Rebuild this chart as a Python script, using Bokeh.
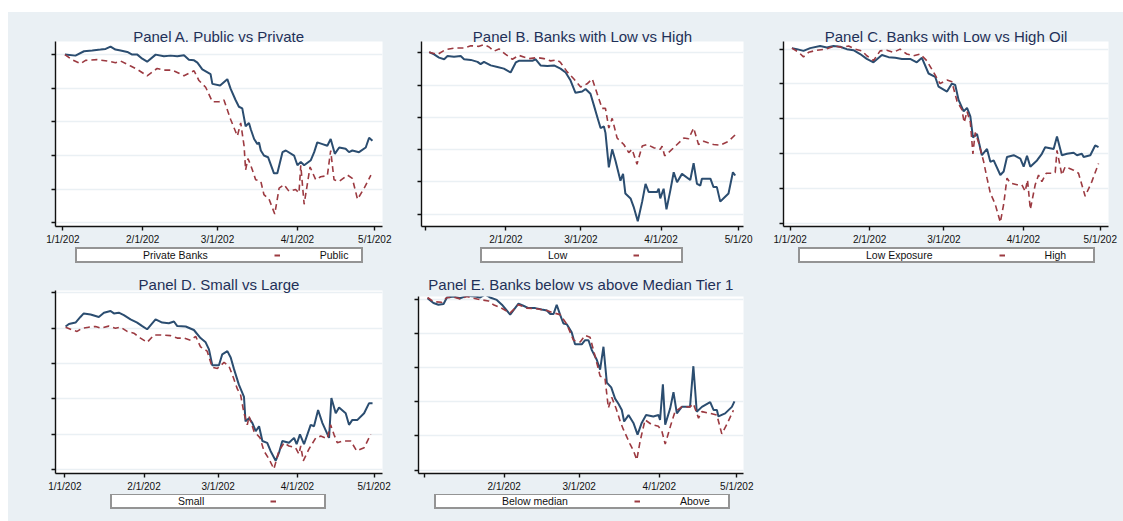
from bokeh.plotting import figure
from bokeh.models import Range1d, FixedTicker, Legend, LegendItem, Spacer
from bokeh.layouts import row, column
from bokeh.core.properties import value
from bokeh.embed import file_html
from bokeh.resources import INLINE

# ---------------- data (x = days since 1 Jan 2020, y = index, start = 1) ----------------
x_tick_days = [0, 31, 60, 91, 121]
x_labels_full = ["1/1/202", "2/1/202", "3/1/202", "4/1/202", "5/1/202"]
x_labels_b = ["", "2/1/202", "3/1/202", "4/1/202", "5/1/20"]
x_labels_e = ["", "2/1/202", "3/1/202", "4/1/202", "5/1/202"]

titles = ["Panel A. Public vs Private", "Panel B. Banks with Low vs High",
          "Panel C. Banks with Low vs High Oil", "Panel D. Small vs Large",
          "Panel E. Banks below vs above Median Tier 1"]
legend_first = ["Private Banks", "Low", "Low Exposure", "Small", "Below median"]
legend_second = ["Public", "", "High", "", "Above"]

# Panel A
a_priv_day = [0.8, 4.9, 8.2, 11.4, 14.6, 16.6, 18.5, 20.4, 22.4, 25.0, 26.9, 28.9, 30.8, 32.7, 36.0,
              39.2, 41.8, 44.4, 47.0, 48.9, 50.9, 52.2, 54.1, 57.3, 58.0, 61.0, 63.8, 65.1, 67.0,
              68.3, 69.6, 70.9, 72.2, 72.9, 74.2, 75.5, 76.1, 76.8, 78.0, 79.6, 81.9, 83.2, 85.2,
              86.5, 89.7, 91.0, 92.3, 93.6, 96.2, 97.5, 98.7, 100.7, 102.6, 103.9, 105.5, 107.2,
              109.7, 111.0, 112.3, 114.9, 117.5, 118.8, 120.1]
a_priv_val = [1.000, 0.997, 1.010, 1.012, 1.015, 1.017, 1.024, 1.015, 1.012, 1.008, 1.000, 1.000,
              0.988, 0.979, 1.000, 0.995, 0.997, 0.995, 0.998, 0.985, 0.983, 0.976, 0.956, 0.942,
              0.913, 0.908, 0.927, 0.898, 0.865, 0.845, 0.840, 0.787, 0.797, 0.778, 0.749, 0.734,
              0.739, 0.715, 0.700, 0.695, 0.647, 0.647, 0.710, 0.715, 0.700, 0.671, 0.681, 0.671,
              0.686, 0.710, 0.739, 0.734, 0.729, 0.749, 0.705, 0.724, 0.720, 0.710, 0.715, 0.710,
              0.724, 0.753, 0.744]
a_pub_day = [0.8, 3.6, 6.9, 8.8, 13.3, 17.2, 20.4, 22.4, 26.3, 28.9, 32.7, 36.6, 39.2, 42.4, 44.4,
             47.0, 50.9, 52.8, 55.4, 58.0, 60.6, 62.5, 65.1, 67.7, 69.0, 70.3, 70.9, 71.8, 72.9,
             74.8, 76.8, 78.0, 80.0, 82.2, 83.9, 85.8, 87.7, 90.3, 91.6, 92.3, 93.6, 95.9, 98.1,
             100.0, 102.6, 103.9, 105.2, 107.2, 110.4, 112.3, 114.3, 116.9, 119.5]
a_pub_val = [1.000, 0.985, 0.973, 0.983, 0.985, 0.981, 0.976, 0.981, 0.966, 0.956, 0.937, 0.959,
             0.954, 0.954, 0.947, 0.937, 0.952, 0.923, 0.903, 0.860, 0.860, 0.865, 0.807, 0.758,
             0.797, 0.729, 0.657, 0.691, 0.671, 0.628, 0.623, 0.584, 0.570, 0.526, 0.603, 0.613,
             0.594, 0.599, 0.589, 0.671, 0.555, 0.666, 0.628, 0.637, 0.640, 0.715, 0.628, 0.623,
             0.642, 0.632, 0.570, 0.603, 0.642]

# Panel B
b_low_day = [1.3, 3.2, 5.1, 7.1, 8.4, 10.9, 13.5, 14.8, 17.4, 20.0, 21.2, 22.5, 25.1, 27.7, 30.2,
             32.8, 34.8, 36.0, 39.3, 41.2, 42.5, 44.4, 47.0, 49.6, 52.1, 54.1, 56.0, 57.9, 60.5,
             61.8, 63.7, 65.0, 66.3, 67.6, 68.9, 69.5, 70.8, 72.1, 73.4, 75.3, 76.3, 77.2, 79.2,
             80.4, 82.0, 83.7, 85.0, 86.2, 89.5, 90.1, 90.7, 92.0, 93.1, 94.6, 95.9, 97.2, 99.1,
             102.3, 103.6, 104.9, 106.2, 106.8, 110.1, 111.3, 112.6, 113.9, 115.8, 117.1, 118.8,
             119.7]
b_low_val = [1.002, 0.995, 0.985, 0.980, 0.990, 0.988, 0.990, 0.980, 0.978, 0.972, 0.965, 0.972,
             0.961, 0.956, 0.951, 0.939, 0.970, 0.975, 0.975, 0.975, 0.980, 0.961, 0.959, 0.961,
             0.951, 0.939, 0.914, 0.876, 0.880, 0.888, 0.873, 0.838, 0.802, 0.767, 0.772, 0.752,
             0.645, 0.701, 0.665, 0.604, 0.625, 0.564, 0.549, 0.523, 0.478, 0.539, 0.594, 0.569,
             0.569, 0.579, 0.549, 0.579, 0.515, 0.574, 0.630, 0.599, 0.625, 0.606, 0.658, 0.594,
             0.589, 0.610, 0.610, 0.584, 0.584, 0.539, 0.554, 0.564, 0.630, 0.620]
b_high_day = [1.3, 4.5, 7.7, 11.6, 14.8, 17.4, 20.6, 22.5, 24.5, 26.4, 28.3, 30.9, 33.5, 36.0,
              39.9, 43.1, 45.7, 48.3, 50.8, 52.1, 54.7, 57.3, 59.9, 62.4, 64.4, 66.3, 68.2, 69.5,
              70.8, 72.1, 74.0, 76.6, 78.5, 79.8, 81.7, 83.7, 85.6, 88.2, 90.7, 91.4, 92.4, 94.6,
              97.2, 99.8, 101.7, 103.6, 105.5, 107.5, 111.3, 113.9, 117.1, 119.7]
b_high_val = [1.002, 0.995, 1.010, 1.015, 1.015, 1.022, 1.020, 1.025, 1.018, 1.005, 1.012, 0.995,
              0.980, 0.992, 0.982, 0.985, 0.982, 0.975, 0.978, 0.970, 0.941, 0.919, 0.894, 0.904,
              0.919, 0.873, 0.828, 0.828, 0.767, 0.797, 0.736, 0.716, 0.691, 0.701, 0.655, 0.711,
              0.716, 0.706, 0.701, 0.711, 0.681, 0.696, 0.716, 0.736, 0.734, 0.767, 0.716, 0.726,
              0.716, 0.714, 0.726, 0.746]

# Panel C
c_low_day = [0.7, 2.6, 5.2, 7.8, 11.7, 14.3, 16.9, 19.5, 22.1, 24.7, 27.3, 29.9, 32.5, 35.8, 38.4,
             41.0, 43.6, 46.8, 49.4, 51.4, 54.0, 56.6, 57.9, 61.2, 63.1, 64.4, 65.7, 67.7, 69.0,
             70.3, 71.3, 72.9, 74.8, 76.8, 78.1, 79.4, 82.0, 83.3, 84.6, 87.2, 89.8, 91.1, 92.4,
             93.7, 96.3, 98.2, 99.5, 102.8, 104.1, 106.0, 108.0, 110.6, 111.9, 113.8, 114.5,
             117.1, 119.0, 120.3]
c_low_val = [1.003, 1.000, 0.995, 1.003, 1.009, 1.005, 1.009, 1.007, 1.000, 0.997, 0.986, 0.972,
             0.962, 0.983, 0.977, 0.975, 0.972, 0.972, 0.962, 0.975, 0.930, 0.920, 0.892, 0.878,
             0.901, 0.897, 0.854, 0.821, 0.831, 0.807, 0.746, 0.756, 0.695, 0.713, 0.676, 0.680,
             0.638, 0.648, 0.690, 0.695, 0.685, 0.662, 0.693, 0.662, 0.680, 0.699, 0.718, 0.713,
             0.749, 0.695, 0.699, 0.702, 0.695, 0.699, 0.690, 0.695, 0.723, 0.718]
c_high_day = [0.7, 3.3, 5.2, 7.2, 10.4, 13.7, 17.6, 20.2, 22.8, 25.4, 28.0, 29.9, 32.5, 35.1, 37.7,
              40.3, 42.9, 45.5, 48.1, 50.7, 53.3, 55.9, 58.5, 61.2, 63.1, 65.1, 67.0, 67.9, 69.0,
              70.3, 71.3, 72.2, 73.5, 75.5, 76.8, 78.1, 80.0, 82.0, 83.3, 84.6, 85.9, 88.5, 90.4,
              91.7, 92.6, 93.7, 95.6, 96.9, 98.2, 99.9, 102.1, 103.4, 104.1, 106.0, 107.3, 110.6,
              112.5, 115.1, 117.7, 120.3]
c_high_val = [1.003, 0.991, 0.978, 0.991, 0.997, 1.000, 1.009, 1.005, 1.009, 1.000, 0.995, 0.981,
              0.967, 0.995, 0.997, 0.991, 1.000, 0.986, 0.981, 0.986, 0.967, 0.934, 0.901, 0.911,
              0.906, 0.850, 0.826, 0.789, 0.821, 0.789, 0.699, 0.760, 0.732, 0.676, 0.629, 0.586,
              0.554, 0.502, 0.554, 0.629, 0.615, 0.610, 0.610, 0.591, 0.624, 0.539, 0.610, 0.638,
              0.619, 0.643, 0.643, 0.645, 0.709, 0.638, 0.662, 0.652, 0.643, 0.577, 0.619, 0.671]

# Panel D
d_small_day = [0.3, 1.6, 4.2, 6.1, 7.4, 10.1, 13.3, 15.3, 17.9, 19.2, 21.1, 23.1, 25.7, 28.3, 30.3,
               32.2, 35.5, 38.1, 40.7, 42.7, 44.0, 47.3, 50.5, 53.1, 55.1, 56.4, 57.7, 60.3, 61.6,
               63.6, 64.9, 66.2, 68.1, 70.1, 70.7, 72.1, 73.4, 74.7, 76.0, 77.3, 79.2, 80.5, 82.5,
               83.8, 85.1, 87.7, 89.7, 90.7, 92.0, 93.6, 96.2, 97.5, 99.1, 100.8, 103.4, 104.3,
               106.0, 107.3, 109.9, 111.2, 112.5, 114.5, 117.1, 119.0, 120.4]
d_small_val = [1.005, 1.012, 1.016, 1.032, 1.042, 1.039, 1.032, 1.044, 1.049, 1.042, 1.044, 1.037,
               1.025, 1.016, 1.006, 0.997, 1.025, 1.016, 1.014, 1.019, 1.006, 1.005, 0.995, 0.972,
               0.960, 0.940, 0.895, 0.895, 0.926, 0.935, 0.917, 0.884, 0.840, 0.805, 0.736, 0.745,
               0.731, 0.708, 0.722, 0.680, 0.675, 0.652, 0.624, 0.647, 0.680, 0.675, 0.689, 0.671,
               0.699, 0.671, 0.726, 0.722, 0.768, 0.731, 0.689, 0.802, 0.759, 0.775, 0.759, 0.726,
               0.740, 0.740, 0.759, 0.787, 0.787]
d_large_day = [0.3, 2.9, 4.8, 6.8, 9.4, 12.0, 14.0, 17.2, 19.8, 21.8, 24.4, 27.0, 29.6, 32.2, 34.9,
               37.5, 41.4, 44.0, 46.6, 49.2, 51.2, 53.1, 55.7, 57.7, 59.7, 62.3, 64.2, 65.9, 67.5,
               68.8, 70.1, 71.4, 72.1, 74.0, 76.4, 77.9, 79.9, 81.8, 83.8, 85.8, 87.7, 90.3, 91.6,
               92.3, 93.3, 95.5, 98.2, 100.1, 102.7, 104.0, 105.3, 106.6, 108.6, 111.9, 114.2,
               117.1, 119.7]
d_large_val = [1.003, 0.995, 0.991, 1.000, 1.003, 1.005, 1.000, 1.006, 1.000, 1.003, 0.991, 0.986,
               0.972, 0.960, 0.981, 0.981, 0.979, 0.972, 0.972, 0.966, 0.977, 0.947, 0.935, 0.889,
               0.886, 0.903, 0.893, 0.861, 0.828, 0.810, 0.759, 0.726, 0.750, 0.708, 0.689, 0.652,
               0.629, 0.601, 0.652, 0.675, 0.666, 0.661, 0.643, 0.666, 0.624, 0.657, 0.689, 0.694,
               0.687, 0.726, 0.699, 0.675, 0.680, 0.680, 0.652, 0.661, 0.699]

# Panel E
e_below_day = [1.3, 3.6, 5.5, 7.5, 8.8, 11.4, 13.9, 16.5, 19.7, 21.7, 23.6, 25.5, 28.1, 30.1, 33.3,
               36.5, 38.4, 40.4, 43.0, 45.5, 47.5, 48.8, 50.1, 51.3, 52.6, 53.9, 55.2, 57.1, 58.4,
               61.0, 62.3, 63.6, 64.9, 66.8, 68.1, 69.4, 70.7, 72.4, 73.9, 75.2, 76.5, 77.4, 79.1,
               81.0, 82.6, 84.2, 85.9, 88.7, 90.7, 91.3, 92.4, 93.3, 95.2, 96.5, 97.8, 99.7, 102.9,
               104.2, 105.5, 107.5, 110.7, 112.0, 113.3, 113.9, 116.5, 119.1, 120.1]
e_below_val = [1.003, 0.989, 0.984, 0.986, 1.005, 1.008, 1.003, 1.010, 1.008, 1.005, 1.014, 1.005,
               0.998, 0.984, 0.955, 0.987, 0.981, 0.974, 0.974, 0.970, 0.967, 0.957, 0.957, 0.984,
               0.955, 0.929, 0.927, 0.903, 0.868, 0.868, 0.880, 0.880, 0.851, 0.823, 0.794, 0.861,
               0.756, 0.742, 0.709, 0.694, 0.676, 0.642, 0.661, 0.638, 0.604, 0.638, 0.661, 0.657,
               0.661, 0.647, 0.751, 0.633, 0.680, 0.728, 0.666, 0.685, 0.685, 0.804, 0.671, 0.685,
               0.699, 0.676, 0.676, 0.657, 0.666, 0.685, 0.701]
e_above_day = [1.3, 3.6, 6.8, 8.8, 12.0, 13.9, 16.5, 19.1, 22.3, 24.9, 26.8, 29.4, 33.3, 36.5, 39.7,
               43.6, 47.5, 50.1, 52.6, 55.2, 57.8, 60.4, 62.3, 64.2, 66.2, 68.1, 70.0, 71.3, 72.6,
               74.3, 75.9, 77.1, 79.7, 81.0, 82.3, 83.6, 85.5, 88.1, 90.7, 92.0, 93.3, 95.5, 97.1,
               99.7, 102.9, 104.2, 106.2, 107.5, 110.7, 113.3, 115.2, 117.1, 119.7]
e_above_val = [1.005, 0.993, 0.991, 1.005, 1.005, 1.001, 1.008, 1.003, 0.998, 0.995, 0.984, 0.976,
               0.960, 0.984, 0.974, 0.972, 0.967, 0.960, 0.955, 0.927, 0.880, 0.875, 0.894, 0.889,
               0.832, 0.775, 0.768, 0.682, 0.713, 0.680, 0.642, 0.619, 0.576, 0.557, 0.530, 0.585,
               0.647, 0.633, 0.628, 0.614, 0.576, 0.633, 0.671, 0.685, 0.685, 0.694, 0.652, 0.671,
               0.666, 0.661, 0.606, 0.633, 0.675]

y_ticks_main = [0.5, 0.6, 0.7, 0.8, 0.9, 1.0]
y_ticks_d = [0.6, 0.7, 0.8, 0.9, 1.0, 1.1]

# ---------------- styling ----------------
BG = "#eaf0f4"
BLUE = "#2b4d70"
RED = "#9c3a41"
TITLE_C = "#1f3058"
FONT = "Liberation Sans"
RED_DASH = "6 4"


def make_panel(title, bx, by, rx, ry, xlabels, xr, yr, yticks,
               width, height, borders, title_off, title_standoff):
    left, right, top, bottom = borders
    p = figure(width=width, height=height, output_backend="svg", toolbar_location=None,
               x_range=Range1d(*xr), y_range=Range1d(*yr),
               min_border_left=left, min_border_right=right,
               min_border_top=top, min_border_bottom=bottom,
               background_fill_color="white", border_fill_color=BG)
    p.outline_line_color = None
    p.title.text = title
    p.title.text_font = FONT
    p.title.text_font_size = "15px"
    p.title.text_font_style = "normal"
    p.title.text_color = TITLE_C
    p.title.align = "center"
    p.title.offset = title_off
    p.title.standoff = title_standoff

    p.xgrid.visible = False
    p.ygrid.grid_line_color = BG
    p.ygrid.grid_line_width = 1.6

    p.xaxis.ticker = FixedTicker(ticks=x_tick_days)
    p.xaxis.major_label_overrides = {d: lab for d, lab in zip(x_tick_days, xlabels)}
    p.yaxis.ticker = FixedTicker(ticks=yticks)
    p.yaxis.major_label_overrides = {t: "" for t in yticks}
    p.yaxis.major_label_standoff = 0
    for ax in (p.xaxis, p.yaxis):
        ax.axis_line_color = "#111111"
        ax.axis_line_width = 1.4
        ax.major_tick_line_color = "#111111"
        ax.major_tick_line_width = 1.4
        ax.major_tick_in = 0
        ax.major_tick_out = 4
        ax.minor_tick_line_color = None
    p.xaxis.major_label_text_font = FONT
    p.xaxis.major_label_text_font_size = "10px"
    p.xaxis.major_label_text_color = "#111111"
    p.xaxis.major_label_standoff = 3

    p.line(bx, by, line_color=BLUE, line_width=2)
    p.line(rx, ry, line_color=RED, line_width=1.6, line_dash=RED_DASH)
    return p


def make_legend(lab1, lab2, width, height, loc, label_w):
    lf = figure(width=width, height=height, output_backend="svg", toolbar_location=None,
                x_range=Range1d(0, 1), y_range=Range1d(0, 1), min_border=0,
                x_axis_location=None, y_axis_location=None,
                background_fill_color=BG, border_fill_color=BG)
    lf.outline_line_color = None
    lf.grid.visible = False
    # key renderers sit outside the visible range; only their legend keys are shown
    key1 = lf.line([5, 6], [5, 6], line_alpha=0)
    key2 = lf.line([5, 6], [5, 6], line_color=RED, line_width=2,
                   line_dash="6 100", line_dash_offset=86)
    legend = Legend(items=[LegendItem(label=value(lab1), renderers=[key1]),
                           LegendItem(label=value(lab2), renderers=[key2])],
                    orientation="horizontal", location=loc,
                    glyph_width=26, glyph_height=8, label_height=8,
                    label_standoff=40, spacing=46, padding=0, margin=0,
                    label_width=label_w,
                    label_text_font=FONT, label_text_font_size="10.5px",
                    label_text_color="#111111",
                    border_line_color="#2a2a2a", border_line_width=2,
                    background_fill_color="white", background_fill_alpha=1)
    lf.add_layout(legend, "center")
    return lf


pa = make_panel(titles[0], a_priv_day, a_priv_val, a_pub_day, a_pub_val, x_labels_full,
                (-2.85, 124.0), (0.489, 1.039), y_ticks_main,
                392, 235, (47, 18, 29, 18), -14.5, -6)
pb = make_panel(titles[1], b_low_day, b_low_val, b_high_day, b_high_val, x_labels_b,
                (-1.67, 122.9), (0.462, 1.035), y_ticks_main,
                370, 235, (21, 27, 29, 18), -20, -6)
pc = make_panel(titles[2], c_low_day, c_low_val, c_high_day, c_high_val, x_labels_full,
                (-2.6, 124.2), (0.49, 1.022), y_ticks_main,
                353, 235, (13, 15, 29, 18), -24, -6)
pd_ = make_panel(titles[3], d_small_day, d_small_val, d_large_day, d_large_val, x_labels_full,
                 (-3.65, 124.3), (0.588, 1.107), y_ticks_d,
                 392, 224, (47, 18, 20, 17), -15.5, -4)
pe = make_panel(titles[4], e_below_day, e_below_val, e_above_day, e_above_val, x_labels_e,
                (-2.19, 123.6), (0.49, 1.008), y_ticks_main,
                370, 224, (18, 27, 25, 17), -11.5, 7)

la = make_legend(legend_first[0], legend_second[0], 392, 23, (20, 7), 41)
lb = make_legend(legend_first[1], legend_second[1], 370, 23, (59, 7), 2)
lc = make_legend(legend_first[2], legend_second[2], 353, 23, (15, 7), 48)
ld = make_legend(legend_first[3], legend_second[3], 392, 27, (55, 12), 8)
le = make_legend(legend_first[4], legend_second[4], 370, 27, (16, 12), 48)

filler = figure(width=353, height=251, output_backend="svg", toolbar_location=None,
                x_range=Range1d(0, 1), y_range=Range1d(0, 1), min_border=0,
                x_axis_location=None, y_axis_location=None,
                background_fill_color=BG, border_fill_color=BG)
filler.outline_line_color = None
filler.grid.visible = False

WHITE = {"background-color": "white"}
layout = column(
    Spacer(width=1123, height=12, styles=WHITE),
    row(Spacer(width=8, height=258, styles=WHITE),
        column(pa, la), column(pb, lb), column(pc, lc)),
    row(Spacer(width=8, height=251, styles=WHITE),
        column(pd_, ld), column(pe, le), filler),
    styles={"background-color": BG},
)

open("out.html", "w").write(file_html(layout, INLINE))
